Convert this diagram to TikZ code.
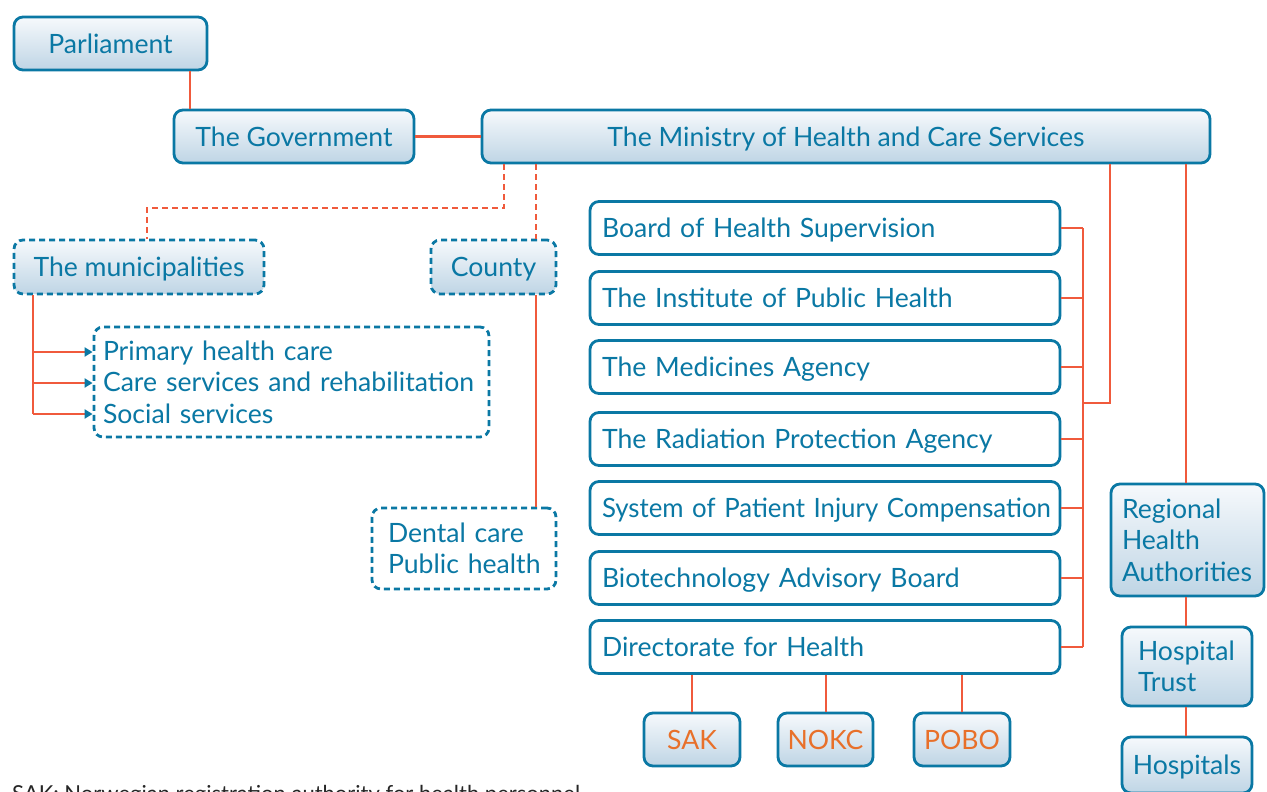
\documentclass[tikz,border=0pt]{standalone}
\usepackage{graphicx}
\usepackage{fontspec}
\setmainfont{Lato}
\usetikzlibrary{arrows.meta,calc}
\definecolor{bblue}{HTML}{0A78A4}
\definecolor{lorange}{HTML}{F05A3C}
\definecolor{torange}{HTML}{E8702A}
\definecolor{gtop}{HTML}{F6F9FC}
\definecolor{gbot}{HTML}{BFD5E5}
\tikzset{
  box/.style={draw=bblue, line width=2.8pt, rounded corners=9pt, text=bblue,
    font=\fontsize{26.6}{31.5}\selectfont, inner sep=0pt},
  one/.style={text depth=0pt},
  grad/.style={top color=gtop, bottom color=gbot},
  plain/.style={fill=white},
  dbox/.style={dash pattern=on 6pt off 4pt},
  lbox/.style={align=left, inner xsep=#1, inner ysep=0pt},
  conn/.style={draw=lorange, line width=2.8pt},
  dconn/.style={conn, dash pattern=on 6pt off 4pt},
  arr/.style={conn, -{Triangle[length=8pt,width=9pt,color=bblue]}},
}
\begin{document}
\begin{tikzpicture}[x=1pt,y=-1pt]
\useasboundingbox (0,0) rectangle (1267,792);
% coordinates for connector columns
\coordinate (x190) at (190,0);
\coordinate (x504) at (504,0);
\coordinate (x147) at (147,0);
\coordinate (x536) at (536,0);
\coordinate (x33) at (33,0);
\coordinate (xbus) at (1083,0);
\coordinate (x1110) at (1110,0);
\coordinate (x1186) at (1186,0);
\coordinate (x692) at (692,0);
\coordinate (x826) at (826,0);
\coordinate (x962) at (962,0);
\coordinate (ydash) at (0,208);
\coordinate (y352) at (0,352);
\coordinate (y383) at (0,383);
\coordinate (y414) at (0,414);
\coordinate (y403) at (0,403);

% top row
\node[box,one,grad,minimum width=193pt,minimum height=53pt] (parl) at (110.5,43.5) {Parliament};
\node[box,one,grad,minimum width=240pt,minimum height=53pt] (gov) at (294,136.5) {The Government};
\node[box,one,grad,minimum width=728pt,minimum height=53pt] (min) at (846,136.5) {The Ministry of Health and Care Services};

% local level
\node[box,one,grad,dbox,minimum width=250pt,minimum height=54pt] (muni) at (139,267) {The municipalities};
\node[box,one,grad,dbox,minimum width=125pt,minimum height=54pt] (county) at (493.5,267) {County};
\node[box,plain,dbox,lbox=9pt,text width=377pt,minimum height=110pt] (care) at (291.5,382)
  {\mbox{Primary health care}\\\mbox{Care services and rehabilitation}\\\mbox{Social services}};
\node[box,plain,dbox,lbox=16pt,text width=152pt,minimum height=81pt] (dental) at (464,548.5)
  {\mbox{Dental care}\\\mbox{Public health}};

% agencies
\node[box,one,plain,lbox=12pt,text width=446pt,minimum height=53pt] (a1) at (825,228) {\mbox{Board of Health Supervision}};
\node[box,one,plain,lbox=12pt,text width=446pt,minimum height=53pt] (a2) at (825,298) {\mbox{The Institute of Public Health}};
\node[box,one,plain,lbox=12pt,text width=446pt,minimum height=53pt] (a3) at (825,367) {\mbox{The Medicines Agency}};
\node[box,one,plain,lbox=12pt,text width=446pt,minimum height=53pt] (a4) at (825,439) {\mbox{The Radiation Protection Agency}};
\node[box,one,plain,lbox=12pt,text width=446pt,minimum height=53pt] (a5) at (825,508) {\scalebox{0.97}[1]{System of Patient Injury Compensation}};
\node[box,one,plain,lbox=12pt,text width=446pt,minimum height=53pt] (a6) at (825,578) {\mbox{Biotechnology Advisory Board}};
\node[box,one,plain,lbox=12pt,text width=446pt,minimum height=53pt] (a7) at (825,647) {\mbox{Directorate for Health}};

% sub units
\node[box,one,grad,text=torange,minimum width=96pt,minimum height=53pt] (sak) at (692,739.5) {SAK};
\node[box,one,grad,text=torange,minimum width=95pt,minimum height=53pt] (nokc) at (825.5,739.5) {NOKC};
\node[box,one,grad,text=torange,minimum width=96pt,minimum height=53pt] (pobo) at (962,739.5) {POBO};

% hospitals column
\node[box,grad,lbox=11pt,text width=131pt,minimum height=112pt] (rha) at (1187.5,540) {\mbox{Regional}\\\mbox{Health}\\\mbox{Authorities}};
\node[box,grad,lbox=16pt,text width=98pt,minimum height=79pt] (trust) at (1187,666.5) {\mbox{Hospital}\\\mbox{Trust}};
\node[box,one,grad,minimum width=130pt,minimum height=56pt] (hosp) at (1187,765) {Hospitals};

% caption (cut by the page edge, as in the original)
\node[anchor=north west,inner sep=0pt,text=black!85,font=\fontsize{22}{26}\selectfont] (cap) at (12,785)
  {SAK: Norwegian registration authority for health personnel};

% connectors
\draw[conn] (parl.south -| x190) -- (gov.north -| x190);
\draw[conn] (gov.east) -- (min.west);
\draw[dconn] (min.south -| x504) -- (ydash -| x504) -| (muni.north -| x147);
\draw[dconn] (min.south -| x536) -- (county.north -| x536);
\draw[conn] (muni.south -| x33) -- (y414 -| x33);
\draw[arr] (y352 -| x33) -- (y352 -| care.west);
\draw[arr] (y383 -| x33) -- (y383 -| care.west);
\draw[arr] (y414 -| x33) -- (y414 -| care.west);
\draw[conn] (county.south -| x536) -- (dental.north -| x536);

\foreach \a in {a1,a2,a3,a4,a5,a6,a7}{
  \draw[conn] (\a.east) -- (\a.east -| xbus);
}
\draw[conn] (a1.east -| xbus) -- (a7.east -| xbus);
\draw[conn] (min.south -| x1110) -- (y403 -| x1110) -- (y403 -| xbus);
\draw[conn] (min.south -| x1186) -- (rha.north -| x1186);
\draw[conn] (rha.south -| x1186) -- (trust.north -| x1186);
\draw[conn] (trust.south -| x1186) -- (hosp.north -| x1186);
\draw[conn] (a7.south -| x692) -- (sak.north -| x692);
\draw[conn] (a7.south -| x826) -- (nokc.north -| x826);
\draw[conn] (a7.south -| x962) -- (pobo.north -| x962);
\end{tikzpicture}
\end{document}
